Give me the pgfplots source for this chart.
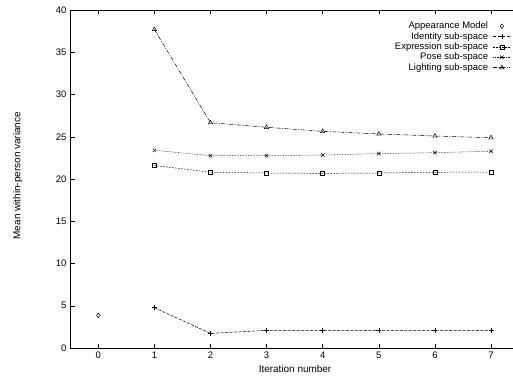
\documentclass[border=0pt]{standalone}
\usepackage{pgfplots}
\pgfplotsset{compat=1.18}
\usepackage{fontspec}
\setmainfont{Liberation Sans}
\begin{document}
\begin{tikzpicture}[x=1bp,y=1bp]
\path[use as bounding box] (0,0) rectangle (513,375);
\begin{axis}[
  at={(70bp,27bp)}, anchor=south west,
  scale only axis, width=443bp, height=338bp,
  xmin=-0.504, xmax=7.392, ymin=0, ymax=40,
  axis x line=box, axis y line=left,
  axis line style={line width=0.7pt, -},
  xtick={0,...,7}, ytick={0,5,...,40},
  tick align=inside, major tick length=4.5bp,
  tick style={line width=0.5pt, black},
  /pgf/number format/assume math mode=true,
  tick label style={font=\fontsize{9.5}{11}\selectfont},
  label style={font=\fontsize{9.5}{11}\selectfont},
  xlabel={Iteration number}, ylabel={Mean within-person variance},
  every axis x label/.style={at={(axis description cs:0.508,-0.062)}, anchor=center},
  every axis y label/.style={at={(axis description cs:-0.118,0.51)}, anchor=center, rotate=90},
  clip=false,
  legend plot pos=right, legend cell align=right,
  legend style={draw=none, fill=none, font=\fontsize{9.5}{11}\selectfont,
     at={(axis cs:7.37,38.95)}, anchor=north east, row sep=-2pt, column sep=3pt, inner sep=1pt},
  every axis plot/.append style={line width=0.5pt, black, mark options={solid, line width=0.5pt}},
]
\addplot[only marks, mark=diamond, mark size=2.3pt] coordinates {(0,3.85)};
\addlegendentry{Appearance Model}
\addplot[dash pattern=on 3pt off 1.5pt, mark=+, mark size=2.5pt] coordinates {(1,4.77)(2,1.73)(3,2.09)(4,2.07)(5,2.06)(6,2.05)(7,2.05)};
\addlegendentry{Identity sub-space}
\addplot[dash pattern=on 1.5pt off 1.5pt, mark=square, mark size=2pt] coordinates {(1,21.6)(2,20.8)(3,20.71)(4,20.67)(5,20.71)(6,20.79)(7,20.83)};
\addlegendentry{Expression sub-space}
\addplot[dash pattern=on 0.6pt off 1pt, mark=x, mark size=2.5pt] coordinates {(1,23.4)(2,22.76)(3,22.76)(4,22.84)(5,23.0)(6,23.12)(7,23.28)};
\addlegendentry{Pose sub-space}
\addplot[dash pattern=on 4pt off 1.5pt on 1pt off 1.5pt, mark=triangle, mark size=2.5pt] coordinates {(1,37.7)(2,26.66)(3,26.12)(4,25.64)(5,25.33)(6,25.09)(7,24.89)};
\addlegendentry{Lighting sub-space}
\end{axis}
\end{tikzpicture}
\end{document}
